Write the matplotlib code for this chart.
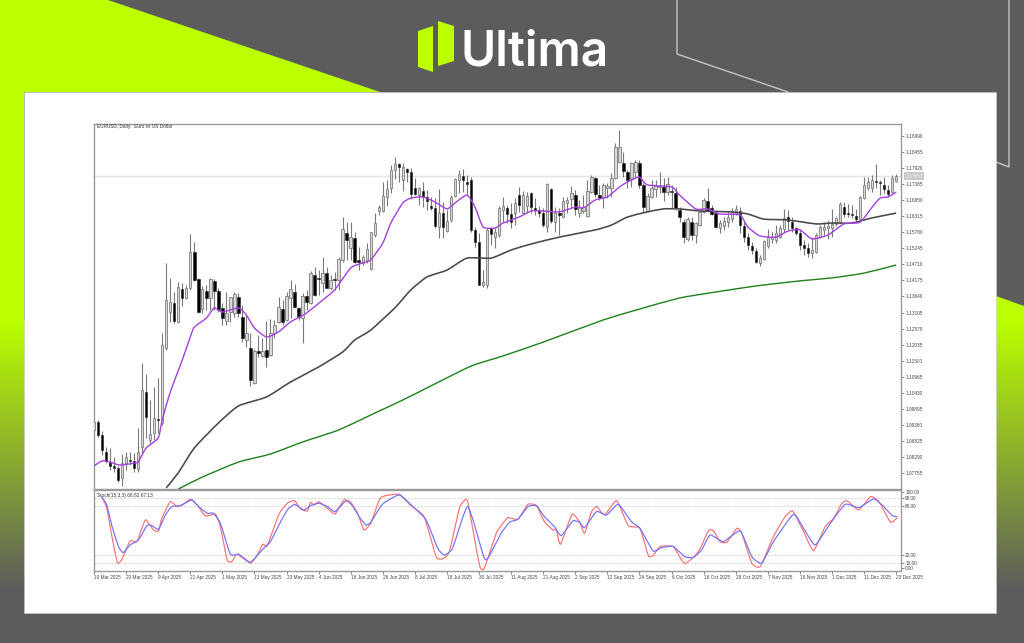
#!/usr/bin/env python3
"""EURUSD daily chart with moving averages and stochastic, on the Ultima banner."""

import matplotlib

matplotlib.use("Agg")

import matplotlib.pyplot as plt
import numpy as np
from matplotlib.colors import to_rgb
from matplotlib.patches import PathPatch, Polygon, Rectangle
from matplotlib.path import Path

W, H = 1024, 643
LIME = "#bbff00"
GREY = "#5c5c5c"
FONT = "Liberation Sans"

# candles, price x 10000
opens = [
    10919, 10945, 10902, 10845, 10812, 10799, 10792, 10759, 10809, 10819, 10816, 10789, 10863, 11045, 10886, 10909,
    10955, 10942, 11192, 11312, 11342, 11279, 11389, 11359, 11392, 11512, 11422, 11322, 11382, 11359, 11416, 11382,
    11326, 11282, 11312, 11309, 11362, 11296, 11219, 11192, 11076, 11182, 11166, 11186, 11169, 11242, 11279, 11322,
    11286, 11359, 11379, 11326, 11292, 11366, 11342, 11436, 11425, 11409, 11442, 11392, 11422, 11419, 11486, 11576,
    11526, 11559, 11486, 11476, 11486, 11456, 11569, 11649, 11649, 11696, 11726, 11786, 11806, 11752, 11789, 11779,
    11726, 11702, 11716, 11696, 11666, 11659, 11596, 11642, 11582, 11619, 11699, 11752, 11766, 11746, 11752, 11586,
    11546, 11402, 11402, 11592, 11562, 11569, 11652, 11659, 11639, 11642, 11702, 11642, 11666, 11709, 11659, 11652,
    11642, 11596, 11722, 11612, 11642, 11629, 11676, 11689, 11702, 11642, 11649, 11632, 11712, 11759, 11702, 11696,
    11726, 11726, 11759, 11812, 11809, 11779, 11759, 11779, 11809, 11736, 11649, 11696, 11722, 11729, 11729, 11712,
    11716, 11709, 11652, 11612, 11556, 11612, 11569, 11602, 11646, 11682, 11659, 11642, 11592, 11599, 11612, 11622,
    11642, 11649, 11599, 11562, 11532, 11516, 11476, 11489, 11532, 11556, 11552, 11562, 11589, 11629, 11612, 11592,
    11576, 11536, 11526, 11509, 11512, 11562, 11586, 11592, 11592, 11606, 11612, 11662, 11642, 11639, 11632, 11622,
    11692, 11726, 11726, 11749, 11746, 11736, 11719, 11712, 11749,
]
highs = [
    10952, 10952, 10916, 10863, 10859, 10829, 10799, 10839, 10845, 10845, 10842, 10925, 11142, 11105, 11019, 11062,
    11092, 11242, 11476, 11425, 11379, 11412, 11409, 11402, 11572, 11546, 11425, 11399, 11402, 11425, 11422, 11392,
    11342, 11379, 11362, 11379, 11376, 11336, 11302, 11242, 11189, 11236, 11226, 11282, 11289, 11286, 11362, 11352,
    11379, 11419, 11406, 11329, 11376, 11386, 11449, 11462, 11452, 11496, 11462, 11436, 11446, 11496, 11629, 11612,
    11612, 11579, 11529, 11502, 11542, 11579, 11642, 11669, 11746, 11752, 11802, 11829, 11809, 11809, 11792, 11792,
    11759, 11729, 11746, 11719, 11696, 11692, 11722, 11679, 11652, 11702, 11759, 11786, 11789, 11769, 11762, 11596,
    11576, 11452, 11592, 11596, 11596, 11666, 11696, 11669, 11676, 11692, 11729, 11716, 11712, 11712, 11692, 11666,
    11659, 11742, 11726, 11662, 11659, 11696, 11696, 11732, 11719, 11686, 11702, 11752, 11769, 11762, 11736, 11742,
    11742, 11776, 11876, 11919, 11846, 11786, 11812, 11819, 11819, 11742, 11709, 11752, 11752, 11779, 11759, 11762,
    11736, 11729, 11662, 11622, 11629, 11629, 11612, 11652, 11692, 11726, 11669, 11652, 11619, 11629, 11646, 11659,
    11669, 11662, 11612, 11576, 11546, 11526, 11502, 11552, 11589, 11579, 11602, 11602, 11656, 11652, 11629, 11596,
    11586, 11552, 11542, 11562, 11576, 11602, 11612, 11619, 11656, 11629, 11679, 11679, 11672, 11669, 11656, 11699,
    11762, 11762, 11769, 11806, 11752, 11762, 11736, 11769, 11772,
]
lows = [
    10909, 10896, 10835, 10809, 10786, 10779, 10745, 10732, 10786, 10802, 10779, 10779, 10842, 10892, 10876, 10886,
    10909, 10935, 11186, 11279, 11276, 11276, 11332, 11356, 11386, 11416, 11309, 11309, 11319, 11319, 11319, 11312,
    11269, 11269, 11279, 11296, 11296, 11212, 11196, 11066, 11072, 11162, 11162, 11129, 11166, 11226, 11276, 11269,
    11282, 11292, 11326, 11286, 11209, 11319, 11339, 11366, 11369, 11379, 11392, 11386, 11386, 11386, 11479, 11486,
    11486, 11476, 11452, 11469, 11476, 11452, 11562, 11636, 11646, 11666, 11709, 11756, 11746, 11716, 11746, 11689,
    11702, 11669, 11662, 11652, 11652, 11592, 11559, 11559, 11579, 11612, 11696, 11709, 11712, 11702, 11579, 11529,
    11402, 11396, 11392, 11536, 11526, 11562, 11612, 11609, 11592, 11602, 11646, 11639, 11642, 11642, 11636, 11629,
    11596, 11579, 11609, 11579, 11569, 11626, 11642, 11659, 11636, 11629, 11642, 11629, 11709, 11696, 11686, 11659,
    11692, 11696, 11756, 11809, 11762, 11726, 11729, 11759, 11726, 11646, 11646, 11692, 11696, 11709, 11682, 11702,
    11659, 11652, 11612, 11542, 11549, 11552, 11542, 11599, 11642, 11646, 11636, 11592, 11576, 11586, 11596, 11612,
    11636, 11576, 11546, 11519, 11506, 11476, 11466, 11486, 11526, 11542, 11542, 11559, 11579, 11586, 11579, 11569,
    11519, 11502, 11496, 11492, 11509, 11559, 11569, 11556, 11562, 11599, 11609, 11629, 11629, 11626, 11609, 11619,
    11689, 11719, 11712, 11726, 11702, 11709, 11696, 11709, 11746,
]
closes = [
    10945, 10902, 10852, 10816, 10799, 10792, 10752, 10809, 10829, 10816, 10792, 10845, 11052, 10962, 10906, 10959,
    10952, 11202, 11352, 11346, 11282, 11396, 11359, 11392, 11512, 11419, 11312, 11389, 11359, 11422, 11382, 11319,
    11292, 11309, 11362, 11372, 11309, 11226, 11242, 11086, 11182, 11176, 11182, 11162, 11242, 11269, 11329, 11279,
    11366, 11389, 11329, 11296, 11366, 11346, 11442, 11369, 11422, 11442, 11392, 11419, 11419, 11489, 11589, 11552,
    11562, 11479, 11479, 11496, 11522, 11579, 11609, 11662, 11699, 11722, 11786, 11806, 11796, 11796, 11779, 11706,
    11706, 11726, 11696, 11682, 11659, 11599, 11642, 11596, 11616, 11696, 11756, 11772, 11752, 11739, 11586, 11546,
    11402, 11412, 11586, 11572, 11579, 11659, 11666, 11639, 11612, 11676, 11669, 11702, 11699, 11662, 11652, 11642,
    11602, 11739, 11616, 11642, 11636, 11682, 11686, 11709, 11656, 11662, 11662, 11716, 11762, 11706, 11692, 11736,
    11732, 11759, 11862, 11862, 11782, 11752, 11809, 11812, 11736, 11662, 11699, 11726, 11732, 11732, 11712, 11739,
    11712, 11659, 11629, 11562, 11622, 11569, 11609, 11646, 11686, 11649, 11639, 11596, 11609, 11616, 11629, 11646,
    11656, 11602, 11562, 11536, 11519, 11479, 11492, 11549, 11562, 11562, 11576, 11592, 11626, 11616, 11592, 11576,
    11536, 11526, 11509, 11519, 11569, 11596, 11596, 11599, 11606, 11626, 11672, 11639, 11639, 11636, 11622, 11696,
    11736, 11746, 11752, 11746, 11742, 11722, 11706, 11759, 11766,
]

# moving averages, read as (bar, price x 10000)
ma_fast_bars = [
    0, 2, 4, 6.5, 10, 11, 13, 16, 17, 19, 22, 24, 25, 28, 30, 32, 36, 38, 40, 43, 46, 49, 53, 57, 60, 64, 67, 69, 72,
    74, 77, 79, 82, 85, 88, 90, 93, 95, 97, 100, 102, 106, 109, 112, 116, 120, 122, 125, 128, 131, 133, 134, 136, 138,
    144, 146, 150, 153, 156, 161, 163, 166, 170, 173, 176, 179, 183, 187, 191, 194, 196, 198, 200,
]
ma_fast = [
    10799, 10816, 10812, 10802, 10809, 10812, 10859, 10892, 10952, 11045, 11152, 11229, 11262, 11292, 11326, 11312,
    11326, 11302, 11259, 11229, 11246, 11279, 11309, 11352, 11386, 11459, 11476, 11486, 11542, 11609, 11676, 11692,
    11696, 11679, 11656, 11676, 11702, 11662, 11596, 11592, 11609, 11629, 11649, 11649, 11646, 11662, 11659, 11686,
    11696, 11729, 11746, 11752, 11762, 11736, 11729, 11702, 11656, 11656, 11639, 11636, 11596, 11566, 11562, 11582,
    11586, 11556, 11569, 11606, 11612, 11662, 11692, 11696, 11712,
]
ma_mid_bars = [
    18, 21, 25, 31, 36, 43, 49, 56, 62, 65, 69, 75, 79, 83, 88, 93, 99, 104, 109, 116, 125, 129, 133, 138, 142, 146,
    151, 159, 163, 167, 173, 180, 184, 189, 194, 200,
]
ma_mid = [
    10726, 10776, 10859, 10942, 10999, 11029, 11079, 11129, 11179, 11219, 11252, 11326, 11386, 11429, 11452, 11492,
    11492, 11519, 11539, 11562, 11586, 11602, 11629, 11646, 11656, 11656, 11649, 11646, 11639, 11622, 11619, 11606,
    11609, 11609, 11626, 11642,
]
ma_slow_bars = [21, 27, 36, 44, 52, 61, 69, 77, 84, 94, 102, 112, 127, 136, 146, 155, 165, 176, 184, 192, 200]
ma_slow = [
    10722, 10762, 10812, 10839, 10879, 10919, 10969, 11019, 11066, 11132, 11166, 11212, 11286, 11322, 11359, 11379,
    11399, 11416, 11426, 11442, 11469,
]

# stochastic, read as (bar, value)
stoch_k_bars = [
    1.9, 3.2, 4.4, 5.8, 6.9, 9, 10.7, 12.8, 14.8, 16.1, 16.9, 19, 20.7, 22.3, 24, 25.7, 27.8, 30.3, 31.5, 33.2, 34.4,
    35.7, 39, 40.7, 42.1, 43.2, 46.1, 48.2, 50, 51.5, 53.2, 54, 54.8, 56.1, 58.2, 60.1, 62.3, 64, 65.7, 67.3, 69, 71.5,
    76.1, 79, 82.3, 85.3, 86.9, 88.6, 91.1, 92.3, 93.2, 96.1, 97.3, 100.3, 101.5, 103.2, 105.7, 108.2, 110.3, 112.3,
    114.4, 115.3, 116.3, 119.2, 121.1, 122.3, 124, 125.3, 127.3, 130.3, 133.2, 136.1, 138.2, 139.4, 141.1, 144.4, 147.3,
    150.7, 153.2, 154.4, 156.1, 157.8, 160.3, 161.5, 164, 166.1, 169.4, 172.3, 174.2, 176.9, 179.4, 182.3, 184.4, 186.5,
    187.8, 190.7, 193.6, 195.7, 198.6, 200.3,
]
stoch_k = [
    91.6, 77.3, 44.5, 10.5, 13.8, 37.1, 36.3, 63, 50.7, 49.4, 65, 85.5, 79.4, 82.2, 88.4, 81.4, 67.9, 69.9, 54.8, 13.8,
    11.7, 20.7, 9.7, 19.9, 33, 31.4, 69.9, 83.5, 86.7, 76.5, 74, 84.7, 81.4, 85.5, 77.3, 70.3, 87.6, 84.7, 71.2, 50.7,
    58.9, 90.4, 94.5, 80.6, 67, 17.9, 15, 24, 77.3, 86.7, 84.7, 7.6, 3.5, 46.6, 56, 65.8, 63.8, 82.2, 80.6, 60.9, 50.7,
    50.7, 33, 69.9, 60.1, 46.6, 72.4, 79.4, 69.1, 86.7, 56, 52.7, 19.1, 19.1, 30.2, 30.2, 9.2, 24, 49.8, 49.8, 36.3,
    35.5, 52.7, 46.6, 9.7, 5.6, 42.5, 67, 74, 48.6, 25.2, 54.8, 65, 83.5, 86.3, 75.3, 91.7, 85.5, 60.1, 65.8,
]
stoch_d_bars = [
    1.9, 3.2, 4.4, 6.1, 7.3, 9, 11.1, 13.2, 14.4, 16.1, 17.8, 19.4, 21.5, 24.4, 26.1, 28.2, 29.8, 31.5, 34, 36.1, 39,
    41.9, 44, 46.1, 48.2, 50, 52.3, 54, 56.1, 58.2, 60.1, 62.8, 64.4, 66.1, 67.8, 69, 71.9, 76.1, 79.8, 82.8, 85.7,
    87.3, 89.4, 93.2, 97.3, 98.6, 101.5, 103.6, 105.7, 108.2, 110.3, 112.3, 114.8, 116.5, 119.4, 121.1, 122.3, 125.3,
    127.8, 130.7, 134, 136.1, 139.4, 141.5, 144.4, 147.3, 149.4, 151.5, 153.6, 156.9, 161.1, 164, 166.5, 169.4, 174.4,
    176.9, 179.8, 183.6, 187.3, 190.7, 194.4, 196.9, 199, 200.3,
]
stoch_d = [
    91.6, 81.4, 56.8, 30.2, 22.8, 32.2, 38.4, 56, 56, 51.5, 69.1, 79.4, 80.6, 87.6, 79.4, 71.2, 71.2, 58.9, 20.7, 20.7,
    10.9, 26, 36.3, 56.8, 75.3, 82.2, 75.3, 80.6, 83.5, 79.4, 73.2, 86.3, 80.6, 67, 56.8, 60, 82.2, 93.7, 78.1, 63,
    28.1, 19.9, 28.1, 79.4, 15.8, 19.1, 46.6, 60.1, 63.8, 79.4, 80.6, 67, 54.8, 43.7, 61.7, 60.1, 53.5, 73.2, 69.1,
    82.2, 60.9, 52.7, 24.8, 28.9, 30.2, 17.9, 16.6, 26, 44.5, 36.3, 49.4, 17.9, 9.7, 36.3, 69.9, 52.7, 32.2, 58.9, 82.2,
    78.1, 88.8, 79.4, 68.3, 67,
]

# axis labels
price_ticks = [
    1.18990, 1.18455, 1.17920, 1.17385, 1.16850, 1.16315, 1.15780, 1.15245, 1.14710, 1.14175, 1.13640, 1.13105,
    1.12570, 1.12035, 1.11500, 1.10965, 1.10430, 1.09895, 1.09360, 1.08825, 1.08290, 1.07755,
]
last_price = 1.17651
date_labels = [
    "10 Mar 2025", "20 Mar 2025", "9 Apr 2025", "21 Apr 2025", "1 May 2025", "13 May 2025", "23 May 2025",
    "4 Jun 2025", "16 Jun 2025", "26 Jun 2025", "8 Jul 2025", "18 Jul 2025", "30 Jul 2025", "11 Aug 2025",
    "21 Aug 2025", "2 Sep 2025", "12 Sep 2025", "24 Sep 2025", "6 Oct 2025", "16 Oct 2025", "28 Oct 2025",
    "7 Nov 2025", "19 Nov 2025", "1 Dec 2025", "11 Dec 2025", "23 Dec 2025",
]
stoch_levels = [90, 80, 20, 10]
stoch_tick_values = [97.3, 90, 80, 20, 10, 3.8]
stoch_tick_labels = ["100.00", "90.00", "80.00", "20.00", "10.00", "0.00"]


def px_axes(fig, left, top, right, bottom):
    """Add axes given in reference pixels."""
    return fig.add_axes([left / W, 1 - bottom / H, (right - left) / W, (bottom - top) / H])


def curve(ax, xs, ys, tension=0.1, **kw):
    """Draw a rounded line through the read points as a bezier path."""
    xs, ys = np.asarray(xs, float), np.asarray(ys, float)
    dx = np.gradient(xs) * tension * 2
    dy = np.gradient(ys) * tension * 2
    verts = [(xs[0], ys[0])]
    codes = [Path.MOVETO]
    for i in range(len(xs) - 1):
        verts += [(xs[i] + dx[i], ys[i] + dy[i]), (xs[i + 1] - dx[i + 1], ys[i + 1] - dy[i + 1]), (xs[i + 1], ys[i + 1])]
        codes += [Path.CURVE4] * 3
    ax.add_patch(PathPatch(Path(verts, codes), fc="none", **kw))


def draw_banner(fig):
    bg = fig.add_axes([0, 0, 1, 1], zorder=0)
    lime, grey = np.array(to_rgb(LIME)), np.array(to_rgb(GREY))
    fade = np.linspace(0, 1, 256)[:, None, None]
    bg.imshow(lime[None, None, :] * (1 - fade) + grey[None, None, :] * fade,
              extent=[0, W, 590, 320], aspect="auto", interpolation="bilinear")
    bg.add_patch(Polygon([(0, 0), (108, 0), (380, 92), (24, 92), (24, 320), (0, 320)], fc=LIME, ec="none"))
    bg.add_patch(Polygon([(996, 296), (1024, 306), (1024, 320), (996, 320)], fc=LIME, ec="none"))
    bg.plot([677, 677, 788], [0, 54, 92], color="#c4c4c4", lw=1)
    bg.plot([1009, 1009, 996], [0, 167, 162], color="#c4c4c4", lw=1)
    bg.add_patch(Rectangle((24, 92), 972, 521, fc="white", ec="#c8c8c8", lw=0.4, zorder=3))

    # logo
    bg.add_patch(Polygon([(418, 31), (433, 26), (433, 72), (418, 67)], fc=LIME, ec="none"))
    bg.add_patch(Polygon([(438, 21), (454, 26), (454, 61), (438, 66)], fc=LIME, ec="none"))
    bg.text(461, 65, "Ultima", color="white", fontsize=34.5, family="Inter", weight="semibold", va="baseline")

    bg.set_xlim(0, W)
    bg.set_ylim(H, 0)
    bg.set_axis_off()


def draw_candles(ax):
    o, h, l, c = (np.array(a) / 1e4 for a in (opens, highs, lows, closes))
    bars = np.arange(len(o))
    up = c >= o
    ax.vlines(bars, l, h, color="#7a7a7a", lw=0.8, zorder=2)
    ax.bar(bars[up], (c - o)[up], bottom=o[up], width=0.6, fc="#d8d8d8", ec="#7e7e7e", lw=0.6, zorder=3)
    ax.bar(bars[~up], (o - c)[~up], bottom=c[~up], width=0.62, fc="black", ec="#222222", lw=0.4, zorder=3)


def style_spines(ax):
    for spine in ax.spines.values():
        spine.set_color("#9a9a9a")
        spine.set_linewidth(1.0)


def main():
    plt.rcParams["font.family"] = [FONT, "DejaVu Sans"]
    fig = plt.figure(figsize=(W / 100, H / 100), dpi=100, facecolor=GREY)
    draw_banner(fig)

    ax = px_axes(fig, 94, 124, 901, 489)
    ax.set_zorder(2)
    draw_candles(ax)
    ax.axhline(last_price, color="#e4e4e4", lw=1, zorder=1)
    curve(ax, ma_slow_bars, np.array(ma_slow) / 1e4, ec="#1c821c", lw=1.0, zorder=4)
    curve(ax, ma_mid_bars, np.array(ma_mid) / 1e4, ec="#484848", lw=1.15, zorder=4)
    curve(ax, ma_fast_bars, np.array(ma_fast) / 1e4, ec="#a63fe0", lw=1.0, zorder=5)
    ax.set_xlim(0, 201.2)
    ax.set_ylim(1.07223, 1.1939)
    ax.set_xticks([])
    ax.yaxis.tick_right()
    ax.set_yticks(price_ticks)
    ax.set_yticklabels([f"{p:.5f}" for p in price_ticks])
    ax.tick_params(axis="y", length=2, width=0.5, color="#555555", labelsize=3.4, labelcolor="#444444", pad=1)
    style_spines(ax)
    ax.text(0.004, 0.9925, "EURUSD, Daily:  Euro vs US Dollar", transform=ax.transAxes, fontsize=3.4,
            color="#333333", va="center")
    ax.annotate(f"{last_price:.5f}", xy=(1, last_price), xycoords=("axes fraction", "data"),
                xytext=(3, 0), textcoords="offset points", fontsize=3.4, color="#f4f4f4", va="center",
                bbox=dict(boxstyle="square,pad=0.3", fc="#c9c9c9", ec="none"), annotation_clip=False)

    st = px_axes(fig, 94, 490, 901, 571.1)
    st.set_zorder(2)
    for level in stoch_levels:
        st.axhline(level, color="#c8c8c8", lw=0.6, ls=(0, (2, 2)), zorder=1)
    curve(st, stoch_k_bars, stoch_k, tension=0.08, ec="#ff7070", lw=0.85, zorder=3)
    curve(st, stoch_d_bars, stoch_d, tension=0.08, ec="#7070ff", lw=0.85, zorder=4)
    st.set_xlim(0, 201.2)
    st.set_ylim(0, 99.8)
    st.yaxis.tick_right()
    st.set_yticks(stoch_tick_values)
    st.set_yticklabels(stoch_tick_labels)
    st.set_xticks(np.arange(len(date_labels)) * 8)
    st.set_xticklabels(date_labels, ha="left")
    st.tick_params(axis="both", length=2, width=0.5, color="#555555", labelsize=3.4, labelcolor="#444444", pad=1)
    style_spines(st)
    st.text(0.004, 0.93, "Stoch(15,3,3) 68.82 67.13", transform=st.transAxes, fontsize=3.4, color="#333333",
            va="center")

    fig.savefig("out.png", dpi=100, facecolor=GREY)


if __name__ == "__main__":
    main()
